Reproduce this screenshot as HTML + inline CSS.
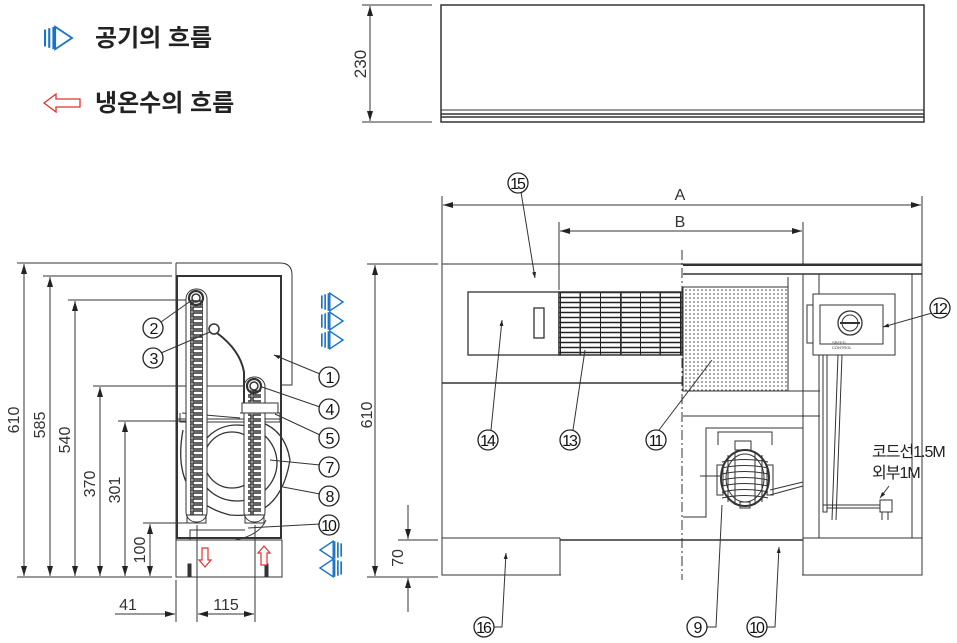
<!DOCTYPE html>
<html><head><meta charset="utf-8"><style>
html,body{margin:0;padding:0;background:#fff;}
svg{display:block;}
text{font-family:"Liberation Sans","Noto Sans CJK KR",sans-serif;}
</style></head><body>
<svg width="957" height="643" viewBox="0 0 957 643" xmlns="http://www.w3.org/2000/svg">
<defs>
<marker id="a" viewBox="0 0 10 6" refX="10" refY="3" markerWidth="10" markerHeight="6" orient="auto-start-reverse" markerUnits="userSpaceOnUse"><path d="M0,0 L10,3 L0,6 z" fill="#222"/></marker>
<marker id="s" viewBox="0 0 6 4" refX="6" refY="2" markerWidth="6" markerHeight="4" orient="auto" markerUnits="userSpaceOnUse"><path d="M0,0 L6,2 L0,4 z" fill="#222"/></marker>
<pattern id="coil" width="12" height="6" patternUnits="userSpaceOnUse"><rect width="12" height="6" fill="#fff"/><rect x="1" y="1" width="10" height="4" fill="none" stroke="#222" stroke-width="1.4"/></pattern>
<pattern id="dots" width="4" height="4" patternUnits="userSpaceOnUse"><circle cx="2" cy="2" r="0.8" fill="#444"/></pattern>
<pattern id="grill" width="20" height="5" patternUnits="userSpaceOnUse"><rect width="20" height="5" fill="#fff"/><line x1="0" y1="2.5" x2="20" y2="2.5" stroke="#222" stroke-width="1.5"/><line x1="0.5" y1="0" x2="0.5" y2="5" stroke="#222"/></pattern>
<g id="airR"><rect x="0" y="-6" width="1.5" height="12" fill="#1a73c8"/><rect x="3" y="-7" width="1.5" height="14" fill="#1a73c8"/><rect x="6" y="-8" width="1.5" height="16" fill="#1a73c8"/><path d="M8,-8 L20,0 L8,8 z" fill="#fff" stroke="#1a73c8" stroke-width="1.3"/></g>
</defs>

<!-- Legend -->
<g transform="translate(44,38) scale(1.4)"><use href="#airR"/></g>
<text x="95" y="46" font-size="24" font-weight="bold" fill="#222">공기의 흐름</text>
<path d="M44,103 L56,94 L56,99 L80,99 L80,107 L56,107 L56,112 z" fill="#fff" stroke="#e53030" stroke-width="1.3"/>
<text x="95" y="111" font-size="24" font-weight="bold" fill="#222">냉온수의 흐름</text>

<!-- Top view -->
<g stroke="#333" fill="none">
<rect x="441" y="5" width="483" height="117" stroke-width="1.5"/>
<line x1="441" y1="110" x2="924" y2="110"/>
<line x1="441" y1="114" x2="924" y2="114" stroke-width="1.5"/>
<line x1="441" y1="117" x2="924" y2="117" stroke-width="1.5"/>
<line x1="362" y1="5" x2="432" y2="5"/>
<line x1="362" y1="122" x2="432" y2="122"/>
<line x1="370" y1="6" x2="370" y2="121" marker-start="url(#a)" marker-end="url(#a)"/>
</g>
<text transform="translate(366,64) rotate(-90)" font-size="17" text-anchor="middle" fill="#333">230</text>

<!-- Left side view -->
<g stroke="#333" fill="none" stroke-width="1">
<path d="M176,263 L280,263 Q292,263 292,275 L292,385 L281,385"/>
<line x1="176" y1="263" x2="176" y2="577"/>
<rect x="177" y="276" width="104" height="262" stroke-width="2"/>
<rect x="176" y="540" width="106" height="37"/>
<line x1="17" y1="263" x2="172" y2="263"/>
<line x1="43" y1="276" x2="172" y2="276"/>
<line x1="68" y1="300" x2="195" y2="300"/>
<line x1="93" y1="386" x2="252" y2="386"/>
<line x1="118" y1="421" x2="190" y2="421"/>
<line x1="143" y1="523" x2="190" y2="523"/>
<line x1="17" y1="577" x2="172" y2="577"/>
<line x1="24" y1="264" x2="24" y2="576" marker-start="url(#a)" marker-end="url(#a)"/>
<line x1="50" y1="277" x2="50" y2="576" marker-start="url(#a)" marker-end="url(#a)"/>
<line x1="75" y1="301" x2="75" y2="576" marker-start="url(#a)" marker-end="url(#a)"/>
<line x1="100" y1="387" x2="100" y2="576" marker-start="url(#a)" marker-end="url(#a)"/>
<line x1="125" y1="422" x2="125" y2="576" marker-start="url(#a)" marker-end="url(#a)"/>
<line x1="150" y1="524" x2="150" y2="576" marker-start="url(#a)" marker-end="url(#a)"/>
<line x1="176" y1="580" x2="176" y2="622"/>
<line x1="197" y1="525" x2="197" y2="622"/>
<line x1="255" y1="525" x2="255" y2="622"/>
<line x1="115" y1="614" x2="175" y2="614" marker-end="url(#a)"/>
<line x1="198" y1="614" x2="254" y2="614" marker-start="url(#a)" marker-end="url(#a)"/>
<path d="M180,413 L180,422 L280,422 L280,413 L240,413 M182,413 L240,418"/>
<line x1="177" y1="419" x2="281" y2="419"/>
<circle cx="232" cy="460" r="28" stroke-width="1.3"/>
<ellipse cx="237" cy="463" rx="40" ry="38" stroke-width="1.3"/>
<path d="M183,430 Q170,500 230,515 Q280,520 290,460 Q285,430 260,422" stroke-width="1.3"/>
<path d="M190,540 L190,530 L245,530 M235,540 Q260,535 266,520"/>
<rect x="186" y="289" width="21" height="233" rx="10" fill="#fff"/>
<rect x="190" y="300" width="13" height="215" fill="url(#coil)" stroke="none"/>
<circle cx="196" cy="298" r="7" stroke-width="2.2"/><circle cx="196" cy="298" r="4" stroke-width="1.5"/>
<rect x="187" y="515" width="19" height="8"/>
<rect x="244" y="377" width="21" height="145" rx="10" fill="#fff"/>
<rect x="248" y="390" width="13" height="125" fill="url(#coil)" stroke="none"/>
<circle cx="254" cy="386" r="7" stroke-width="2.2"/><circle cx="254" cy="386" r="4" stroke-width="1.5"/>
<rect x="245" y="515" width="19" height="8"/>
<rect x="242" y="403" width="36" height="10" fill="#fff"/>
<circle cx="214" cy="329" r="5" stroke-width="1.5"/>
<path d="M217,333 Q240,350 244,372 L244,403" stroke-width="2"/>
<rect x="188" y="564" width="3" height="12" fill="#333"/>
<rect x="265" y="564" width="3" height="12" fill="#333"/>
</g>
<g font-size="16" fill="#333" text-anchor="middle">
<text transform="translate(19,420) rotate(-90)">610</text>
<text transform="translate(45,425) rotate(-90)">585</text>
<text transform="translate(70,440) rotate(-90)">540</text>
<text transform="translate(95,484) rotate(-90)">370</text>
<text transform="translate(120,490) rotate(-90)">301</text>
<text transform="translate(145,550) rotate(-90)">100</text>
<text x="128" y="610">41</text>
<text x="226" y="610">115</text>
</g>
<path d="M202,548 L208,548 L208,560 L211,560 L205,567 L199,560 L202,560 z" fill="#fff" stroke="#e53030" stroke-width="1.2"/>
<path d="M261,565 L267,565 L267,553 L270,553 L264,546 L258,553 L261,553 z" fill="#fff" stroke="#e53030" stroke-width="1.2"/>
<g transform="translate(321,302) scale(1.1)"><use href="#airR"/></g>
<g transform="translate(321,321) scale(1.1)"><use href="#airR"/></g>
<g transform="translate(321,340) scale(1.1)"><use href="#airR"/></g>
<g transform="translate(342,550) scale(-1.1,1.1)"><use href="#airR"/></g>
<g transform="translate(342,568) scale(-1.1,1.1)"><use href="#airR"/></g>
<g stroke="#333" fill="none">
<line x1="161" y1="322" x2="192" y2="300"/>
<line x1="161" y1="353" x2="210" y2="332"/>
<line x1="320" y1="374" x2="274" y2="355" marker-end="url(#s)"/>
<line x1="320" y1="407" x2="262" y2="387"/>
<line x1="320" y1="435" x2="275" y2="414"/>
<line x1="320" y1="465" x2="270" y2="460"/>
<line x1="320" y1="494" x2="283" y2="487"/>
<line x1="320" y1="524" x2="248" y2="528"/>
</g>

<!-- Front view -->
<g stroke="#333" fill="none">
<line x1="442" y1="196" x2="442" y2="264"/>
<line x1="922" y1="196" x2="922" y2="264"/>
<line x1="559" y1="222" x2="559" y2="290"/>
<line x1="803" y1="222" x2="803" y2="264"/>
<line x1="443" y1="205" x2="921" y2="205" marker-start="url(#a)" marker-end="url(#a)"/>
<line x1="560" y1="231" x2="802" y2="231" marker-start="url(#a)" marker-end="url(#a)"/>
<rect x="442" y="264" width="480" height="311"/>
<line x1="683" y1="274" x2="922" y2="274" stroke-width="1.5"/>
<line x1="683" y1="265" x2="922" y2="265" stroke-width="2"/>
<line x1="442" y1="383" x2="683" y2="383" stroke-width="1.5"/>
<rect x="468" y="292" width="91" height="63" stroke-width="1.3"/>
<rect x="534" y="308" width="10" height="30" stroke-width="1.3"/>
<rect x="559" y="292" width="123" height="63" fill="url(#grill)" stroke-width="1.5"/>
<line x1="580" y1="292" x2="580" y2="355"/><line x1="621" y1="292" x2="621" y2="355" stroke-width="1.5"/><line x1="660" y1="292" x2="660" y2="355"/>
<rect x="683" y="287" width="105" height="104" fill="url(#dots)"/>
<line x1="788" y1="277" x2="788" y2="391"/>
<line x1="683" y1="391" x2="820" y2="391"/>
<line x1="683" y1="416" x2="820" y2="416"/>
<line x1="803" y1="274" x2="803" y2="575"/>
<line x1="819" y1="274" x2="819" y2="538"/>
<line x1="912" y1="274" x2="912" y2="538"/>
<path d="M683,517 L706,517 L706,428 L803,428"/>
<line x1="442" y1="538" x2="560" y2="538"/>
<line x1="803" y1="538" x2="922" y2="538"/>
<line x1="560" y1="540" x2="803" y2="540" stroke-width="1.5"/>
<line x1="560" y1="538" x2="560" y2="575"/>
<line x1="561" y1="575" x2="802" y2="575" stroke="#fff" stroke-width="3"/>
<line x1="682" y1="250" x2="682" y2="580" stroke-dasharray="10,3,2,3"/>
<rect x="813" y="294" width="82" height="61" fill="#fff"/>
<rect x="820" y="305" width="63" height="39"/>
<path d="M813,305 L807,305 L807,343 L813,343"/>
<circle cx="850" cy="323" r="12" stroke-width="1.3"/><circle cx="850" cy="323" r="8"/>
<line x1="840" y1="323" x2="860" y2="323" stroke-width="2"/>
<path d="M823,355 L823,512 L827,512 L827,355 M838,355 L832,520 M842,355 L836,520"/>
<path d="M823,505 L880,505 M827,508 L880,508"/>
<path d="M880,500 L892,500 L892,512 L880,512 z M882,512 L882,520 M888,512 L888,520"/>
<path d="M718,445 L718,432 L772,432 L772,445"/>
<rect x="735" y="441" width="16" height="9"/>
<ellipse cx="745" cy="478" rx="24" ry="28" stroke-width="2"/>
<ellipse cx="745" cy="478" rx="19" ry="24"/>
<path d="M728,455 L728,502 M735,452 L735,505 M755,452 L755,505 M762,455 L762,502" />
<path d="M722,462 Q745,457 768,462 M722,468 Q745,463 768,468 M722,474 Q745,469 768,474 M722,480 Q745,475 768,480 M722,486 Q745,481 768,486 M722,492 Q745,487 768,492 M722,498 Q745,493 768,498"/>
<rect x="717" y="465" width="6" height="30"/><rect x="767" y="465" width="6" height="30"/>
<line x1="700" y1="476" x2="720" y2="476"/>
<path d="M770,490 L803,482 M770,495 L803,486"/>
<rect x="740" y="502" width="10" height="6"/>
<line x1="367" y1="264" x2="438" y2="264"/>
<line x1="367" y1="577" x2="438" y2="577"/>
<line x1="398" y1="540" x2="438" y2="540"/>
<line x1="375" y1="265" x2="375" y2="576" marker-start="url(#a)" marker-end="url(#a)"/>
<line x1="408" y1="505" x2="408" y2="539" marker-end="url(#a)"/>
<line x1="408" y1="612" x2="408" y2="578" marker-end="url(#a)"/>
<line x1="521" y1="192" x2="535" y2="278" marker-end="url(#s)"/>
<line x1="491" y1="430" x2="502" y2="320" marker-end="url(#s)"/>
<line x1="573" y1="430" x2="585" y2="350"/>
<line x1="659" y1="430" x2="712" y2="360"/>
<line x1="932" y1="313" x2="883" y2="327" marker-end="url(#s)"/>
<path d="M493,627 L502,627 L506,553" marker-end="url(#s)"/>
<path d="M706,627 L716,627 L722,505"/>
<path d="M766,627 L775,627 L779,547" marker-end="url(#s)"/>
<line x1="889" y1="486" x2="880" y2="498" marker-end="url(#s)"/>
</g>
<text x="680" y="200" font-size="16" fill="#333" text-anchor="middle">A</text>
<text x="680" y="227" font-size="16" fill="#333" text-anchor="middle">B</text>
<text transform="translate(372,415) rotate(-90)" font-size="16" fill="#333" text-anchor="middle">610</text>
<text transform="translate(403,558) rotate(-90)" font-size="16" fill="#333" text-anchor="middle">70</text>
<text x="832" y="344" font-size="4" fill="#333">SPEED</text>
<text x="832" y="349" font-size="4" fill="#333">CONTROL</text>
<text x="872" y="457" font-size="16" fill="#222" letter-spacing="-1">코드선1.5M</text>
<text x="872" y="478" font-size="16" fill="#222" letter-spacing="-1">외부1M</text>

<g fill="#fff" stroke="#222" stroke-width="1.3">
<circle cx="153" cy="328" r="10"/><circle cx="153" cy="358" r="10"/>
<circle cx="329" cy="377" r="10"/><circle cx="329" cy="409" r="10"/><circle cx="329" cy="438" r="10"/>
<circle cx="329" cy="467" r="10"/><circle cx="329" cy="496" r="10"/><circle cx="329" cy="525" r="10"/>
<circle cx="518" cy="183" r="10"/><circle cx="488" cy="440" r="10"/><circle cx="570" cy="440" r="10"/>
<circle cx="656" cy="440" r="10"/><circle cx="940" cy="308" r="10"/>
<circle cx="484" cy="627" r="10"/><circle cx="697" cy="627" r="10"/><circle cx="757" cy="627" r="10"/>
</g>
<g font-size="16" fill="#111" text-anchor="middle" letter-spacing="-2">
<text x="153" y="334">2</text><text x="153" y="364">3</text>
<text x="329" y="383">1</text><text x="329" y="415">4</text><text x="329" y="444">5</text>
<text x="329" y="473">7</text><text x="329" y="502">8</text><text x="328" y="531">10</text>
<text x="517" y="189">15</text><text x="487" y="446">14</text><text x="569" y="446">13</text>
<text x="655" y="446">11</text><text x="939" y="314">12</text>
<text x="483" y="633">16</text><text x="697" y="633">9</text><text x="756" y="633">10</text>
</g>
</svg>
</body></html>
